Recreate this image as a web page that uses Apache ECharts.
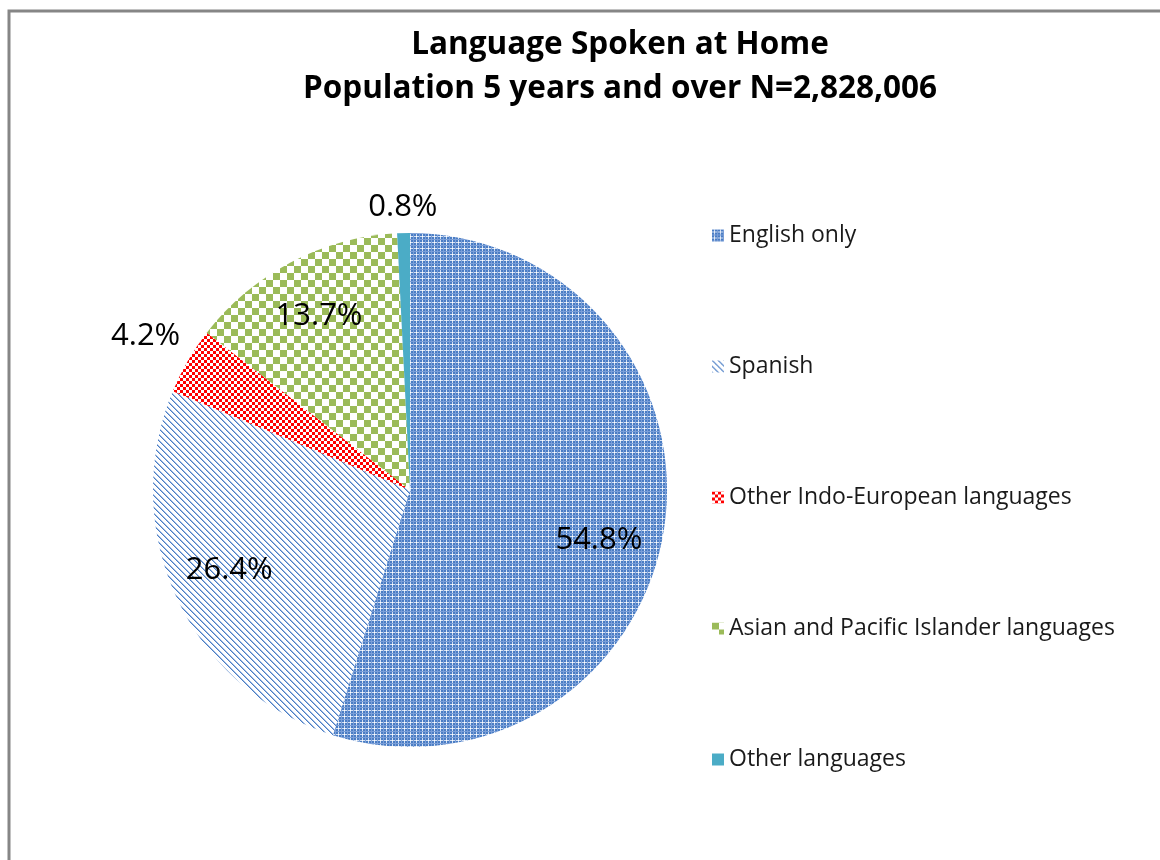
<!DOCTYPE html>
<html>
<head>
<meta charset="utf-8">
<script src="https://cdn.jsdelivr.net/npm/echarts@6/dist/echarts.min.js"></script>
<style>
  html, body { margin: 0; padding: 0; background: #fff; }
  #chart { width: 1160px; height: 860px; }
</style>
</head>
<body>
<div id="chart"></div>
<script>
// Language spoken at home, population 5 years and over
const categories = [
  'English only',
  'Spanish',
  'Other Indo-European languages',
  'Asian and Pacific Islander languages',
  'Other languages'
];
const shares = [54.8, 26.4, 4.2, 13.7, 0.8];
// value-label placement: fraction of the pie radius, and turn (degrees) from the slice middle
const labelRadius = [0.76, 0.77, 1.19, 0.765, 1.1];
const labelTurn = [6, 1, 0, 0, 0];

function tile(w, h, draw) {
  const c = document.createElement('canvas');
  c.width = w; c.height = h;
  const g = c.getContext('2d');
  draw(g);
  return { image: c, repeat: 'repeat' };
}

const BLUE = '#4a7dc4';
const fills = [
  // woven lattice
  tile(6, 6, g => {
    g.fillStyle = BLUE; g.fillRect(0, 0, 6, 6);
    g.fillStyle = '#d3e0f3';
    g.fillRect(2, 0, 1, 6); g.fillRect(0, 2, 6, 1);
    g.fillStyle = '#7b9fd8';
    g.fillRect(5, 0, 1, 6); g.fillRect(0, 5, 6, 1);
    g.fillStyle = '#ffffff';
    g.fillRect(2, 2, 1, 1);
  }),
  // dense downward diagonals
  tile(6, 6, g => {
    g.fillStyle = '#ffffff'; g.fillRect(0, 0, 6, 6);
    for (let i = 0; i < 6; i++) {
      g.fillStyle = BLUE; g.fillRect(i, i, 1, 1);
      g.fillStyle = '#9fbbe3'; g.fillRect((i + 1) % 6, i, 1, 1);
    }
  }),
  // small checkerboard
  tile(6, 6, g => {
    g.fillStyle = '#ffffff'; g.fillRect(0, 0, 6, 6);
    g.fillStyle = '#ff0000';
    g.fillRect(0, 0, 3, 3); g.fillRect(3, 3, 3, 3);
  }),
  // large checkerboard
  tile(14, 14, g => {
    g.fillStyle = '#ffffff'; g.fillRect(0, 0, 14, 14);
    g.fillStyle = '#9bbb59';
    g.fillRect(0, 0, 7, 7); g.fillRect(7, 7, 7, 7);
  }),
  '#4bacc6'
];

const CENTER = [410, 490];
const RADIUS = 257;
const FONT = '"Open Sans", Lato, sans-serif';

// mid-angle of each slice (clockwise from 12 o'clock)
const total = shares.reduce((a, b) => a + b, 0);
const midAngles = [];
let acc = 0;
shares.forEach(v => {
  midAngles.push((acc + v / 2) / total * 2 * Math.PI);
  acc += v;
});

const chart = echarts.init(document.getElementById('chart'), null, { renderer: 'canvas' });
chart.setOption({
  backgroundColor: '#ffffff',
  animation: false,
  title: {
    text: 'Language Spoken at Home\nPopulation 5 years and over N=2,828,006',
    left: 615,
    top: 18,
    textAlign: 'center',
    textStyle: {
      fontFamily: FONT,
      fontWeight: 'bold',
      fontSize: 31.5,
      lineHeight: 44,
      color: '#000000'
    }
  },
  legend: {
    orient: 'vertical',
    left: 707,
    top: 219,
    itemWidth: 12,
    itemHeight: 12,
    itemGap: 108,
    icon: 'rect',
    selectedMode: false,
    textStyle: {
      fontFamily: FONT,
      fontSize: 23,
      lineHeight: 22,
      color: '#1a1a1a'
    },
    data: categories
  },
  graphic: [{
    type: 'polyline',
    shape: { points: [[9, 870], [9, 11], [1170, 11]] },
    style: { stroke: '#868686', lineWidth: 3, fill: null },
    silent: true
  }],
  series: [{
    type: 'pie',
    center: CENTER,
    radius: RADIUS,
    startAngle: 90,
    clockwise: true,
    avoidLabelOverlap: false,
    itemStyle: { borderWidth: 0 },
    label: {
      show: true,
      position: 'inside',
      formatter: p => p.value.toFixed(1) + '%',
      fontFamily: FONT,
      fontSize: 31,
      color: '#000000'
    },
    labelLine: { show: false },
    labelLayout: p => {
      const a = midAngles[p.dataIndex] + labelTurn[p.dataIndex] * Math.PI / 180;
      const r = RADIUS * labelRadius[p.dataIndex];
      return {
        x: CENTER[0] + r * Math.sin(a),
        y: CENTER[1] - r * Math.cos(a),
        align: 'center',
        verticalAlign: 'middle'
      };
    },
    emphasis: { disabled: true },
    data: categories.map((name, i) => ({
      name: name,
      value: shares[i],
      itemStyle: { color: fills[i] }
    }))
  }]
});
</script>
</body>
</html>
